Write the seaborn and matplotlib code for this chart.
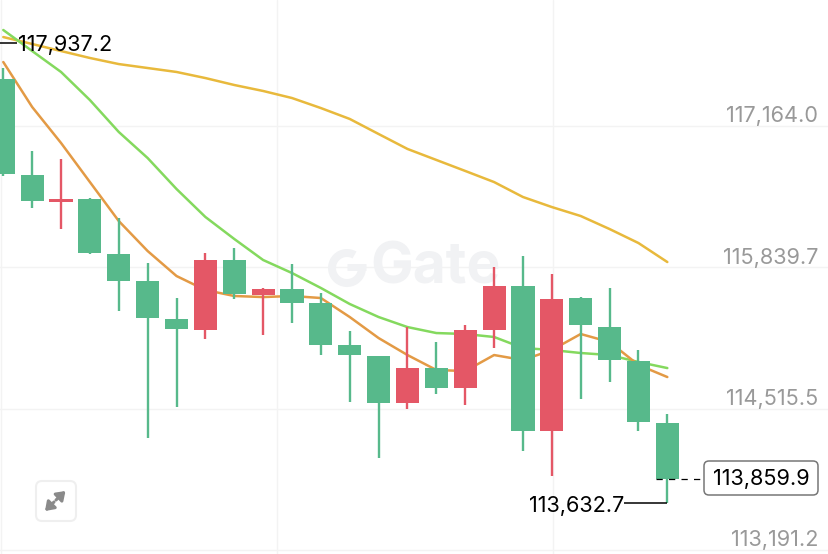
import numpy as np
import pandas as pd
import matplotlib
matplotlib.use('Agg')
import matplotlib.pyplot as plt
import seaborn as sns
from matplotlib.patches import FancyBboxPatch, Wedge
from matplotlib.transforms import Affine2D

# candles
opens = [117602, 116703, 116450, 116478, 115963, 115710, 115357, 115254, 115907, 115582, 115633, 115501,
         115108, 115011, 114565, 114893, 114708, 115251, 115666, 114308, 115548, 115282, 114958, 114380]
closes = [116712, 116460, 116478, 115973, 115710, 115364, 115264, 115907, 115588, 115635, 115507, 115111,
          115017, 114565, 114893, 114708, 115249, 115666, 114308, 115545, 115298, 114968, 114393, 113859.9]
highs = [117705, 116928, 116853, 116490, 116300, 115879, 115551, 115973, 116019, 115645, 115869, 115598,
         115242, 115011, 115282, 115142, 115298, 115844, 115944, 115773, 115565, 115642, 115064, 114465]
lows = [116694, 116394, 116197, 115963, 115429, 114243, 114530, 115167, 115542, 115205, 115320, 115017,
        114577, 114055, 114511, 114649, 114552, 115080, 114121, 113887, 114602, 114767, 114305, 113632.7]

# moving averages
ma_slow = [117995, 117930, 117864, 117799, 117742, 117705, 117668, 117611, 117546, 117490, 117424, 117330,
           117228, 117087, 116947, 116844, 116741, 116637, 116497, 116403, 116319, 116197, 116066, 115888]
ma_mid = [118061, 117864, 117668, 117405, 117106, 116862, 116572, 116310, 116104, 115907, 115785, 115645,
          115495, 115373, 115279, 115223, 115214, 115186, 115083, 115064, 115036, 115017, 114952, 114895]
ma_fast = [117761, 117340, 117003, 116637, 116272, 115991, 115757, 115626, 115570, 115560, 115570, 115551,
           115373, 115176, 115017, 114877, 114867, 115017, 114970, 115064, 115214, 115139, 114924, 114811]

price_ticks = [117164.0, 115839.7, 114515.5, 113191.2]
price_labels = ['117,164.0', '115,839.7', '114,515.5', '113,191.2']
time_grid = [-0.08, 9.48, 19.04, 28.6]
max_price = 117937.2
min_price = 113632.7
last_price = 113859.9

GREEN = '#57b98b'
RED = '#e45766'
FONT = 'Inter'
LABEL_SIZE = 15.6

sns.set_style('white')
plt.rcParams['font.family'] = FONT

df = pd.DataFrame({'i': range(len(opens)), 'open': opens, 'close': closes, 'high': highs, 'low': lows,
                   'slow': ma_slow, 'mid': ma_mid, 'fast': ma_fast})
df['body'] = (df['open'] - df['close']).abs()
df['base'] = df[['open', 'close']].min(axis=1)

fig = plt.figure(figsize=(8.29, 5.54), dpi=100)
ax = fig.add_axes([0, 0, 1, 1])

# pixel coords for the page furniture, origin top left
px = Affine2D().scale(1, -1).translate(0, 554)

# moving averages sit under the candles
sns.lineplot(data=df, x='i', y='slow', color='#e8b93c', lw=1.8, ax=ax, zorder=2)
sns.lineplot(data=df, x='i', y='mid', color='#84d95e', lw=1.8, ax=ax, zorder=2)
sns.lineplot(data=df, x='i', y='fast', color='#e39a45', lw=1.8, ax=ax, zorder=2)

for sub, col in [(df[df['close'] < df['open']], GREEN), (df[df['close'] >= df['open']], RED)]:
    ax.vlines(sub['i'], sub['low'], sub['high'], color=col, lw=1.7, zorder=3)
    sns.barplot(x=sub['i'], y=sub['body'], bottom=sub['base'], native_scale=True, width=0.8, color=col,
                saturation=1, errorbar=None, ax=ax, zorder=4, linewidth=0)

ax.set_xlim(-0.114, 28.6)
ax.set_ylim(113153.7, 118342)
ax.set_xticks(time_grid)
ax.set_yticks(price_ticks)
ax.grid(True, color='#f3f3f3', lw=1)
ax.set_axisbelow(True)
ax.tick_params(length=0, labelbottom=False, labelleft=False)
ax.set_xlabel('')
ax.set_ylabel('')
sns.despine(ax=ax, left=True, bottom=True)

# watermark (px flips y, so the gap sits top right with these angles)
ax.add_patch(Wedge((347, 268), 19, 0, 300, width=8, transform=px, color='#f1f2f4', lw=0, zorder=1))
ax.plot([347, 366], [267, 267], transform=px, color='#f1f2f4', lw=5, zorder=1, solid_capstyle='butt')
ax.text(370, 268, 'Gate', transform=px, fontsize=41, fontweight='bold', color='#f1f2f4',
        ha='left', va='center', zorder=1)

# axis labels
for val, lab in zip(price_ticks, price_labels):
    ax.annotate(lab, xy=(1, val), xycoords=ax.get_yaxis_transform(), xytext=(-11, 9.5),
                textcoords='offset pixels', ha='right', va='center', fontsize=LABEL_SIZE, color='#999999')

# high / low markers
ax.hlines(max_price, -0.114, 0.47, color='black', lw=1.1, zorder=6)
ax.annotate('117,937.2', xy=(18, 45), xycoords=px, ha='left', va='center', fontsize=LABEL_SIZE, color='black', zorder=6)
ax.hlines(min_price, 21.5, 23, color='black', lw=1.1, zorder=6)
ax.annotate('113,632.7', xy=(624, 506), xycoords=px, ha='right', va='center', fontsize=LABEL_SIZE, color='black', zorder=6)

# last price
ax.hlines(last_price, 22.6, 24.3, color='black', lw=0.9, linestyles=(0, (5, 5)), zorder=6)
ax.add_patch(FancyBboxPatch((707, 464), 108, 28, boxstyle='round,pad=3,rounding_size=5', transform=px,
                            fc='white', ec='#777777', lw=1.1, zorder=7))
ax.annotate('113,859.9', xy=(761, 479), xycoords=px, ha='center', va='center', fontsize=LABEL_SIZE, color='black', zorder=8)

# expand button
ax.add_patch(FancyBboxPatch((39, 484), 34, 34, boxstyle='round,pad=3,rounding_size=6', transform=px,
                            fc='white', ec='#efefef', lw=1.5, zorder=5))
for start, end in [((56, 500), (65.5, 491)), ((54, 502), (45, 511))]:
    ax.annotate('', xy=end, xytext=start, xycoords=px, textcoords=px, zorder=6,
                arrowprops=dict(arrowstyle='-|>,head_length=0.5,head_width=0.35', color='#8a8a8a', lw=2.2,
                                shrinkA=0, shrinkB=0))

fig.savefig('out.png', dpi=100)
